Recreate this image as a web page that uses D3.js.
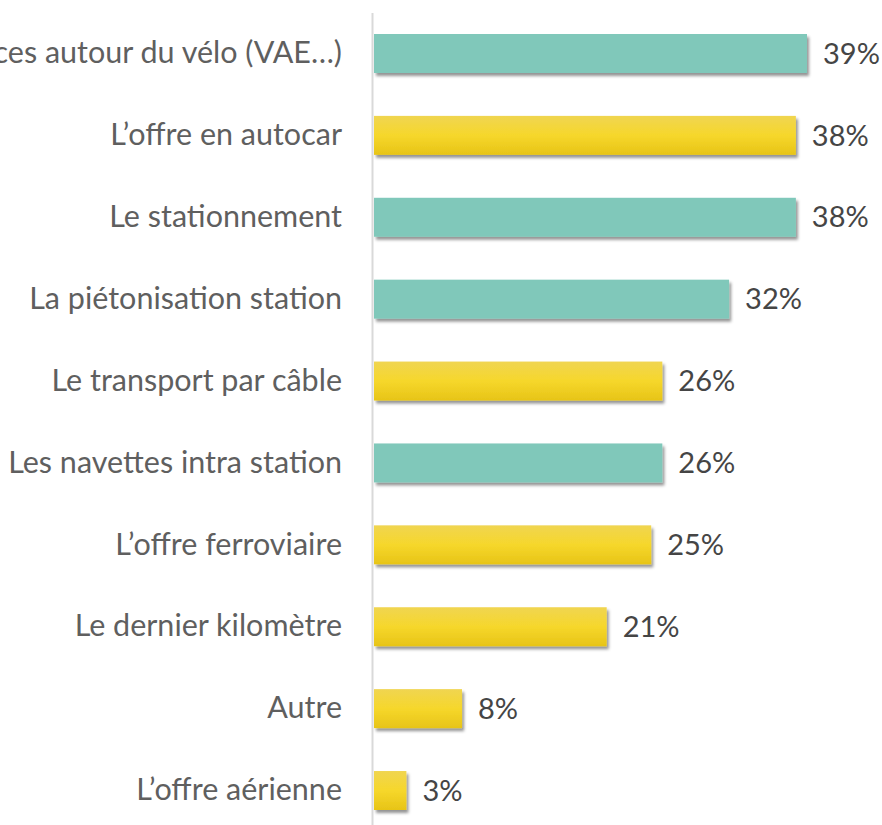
<!DOCTYPE html>
<html>
<head>
<meta charset="utf-8">
<script src="https://cdn.jsdelivr.net/npm/d3@7"></script>
<style>
  body { margin: 0; background: #fff; }
  svg { display: block; }
  .lbl text { font-family: Lato, "Open Sans", sans-serif; font-size: 30.5px; fill: #5f5f5f; }
  .val { font-family: Lato, "Open Sans", sans-serif; font-size: 29px; fill: #454545; }
</style>
</head>
<body>
<div id="chart"></div>
<script>
// categories, top to bottom
var labels = ["Les services autour du vélo (VAE…)", "L’offre en autocar", "Le stationnement",
  "La piétonisation station", "Le transport par câble", "Les navettes intra station",
  "L’offre ferroviaire", "Le dernier kilomètre", "Autre", "L’offre aérienne"];
// share of answers, %
var values = [39, 38, 38, 32, 26, 26, 25, 21, 8, 3];
// bar colour group (t = teal, y = yellow)
var groups = ["t", "y", "t", "t", "y", "t", "y", "y", "y", "y"];

var width = 882, height = 825;

var data = labels.map(function(d, i) { return {label: d, value: values[i], group: groups[i]}; });

var svg = d3.select("#chart")
  .append("svg")
  .attr("width", width)
  .attr("height", height);

var defs = svg.append("defs");

var grad = defs.append("linearGradient")
  .attr("id", "yellowGrad")
  .attr("x1", 0).attr("y1", 0).attr("x2", 0).attr("y2", 1);
grad.append("stop").attr("offset", "0%").attr("stop-color", "#f0d551");
grad.append("stop").attr("offset", "50%").attr("stop-color", "#f6d72b");
grad.append("stop").attr("offset", "100%").attr("stop-color", "#e7c417");

var shadow = defs.append("filter")
  .attr("id", "shadow")
  .attr("x", "-10%").attr("y", "-30%")
  .attr("width", "130%").attr("height", "180%");
shadow.append("feDropShadow")
  .attr("dx", 2).attr("dy", 3)
  .attr("stdDeviation", 1.6)
  .attr("flood-color", "#000")
  .attr("flood-opacity", 0.42);

var x = d3.scaleLinear()
  .domain([0, 39])
  .range([373, 807]);

var y = d3.scaleBand()
  .domain(labels)
  .range([34, 810])
  .paddingInner(0.524)
  .paddingOuter(0);

var color = function(g) { return g === "t" ? "#80c8ba" : "url(#yellowGrad)"; };

// category labels
var yAxis = svg.append("g")
  .attr("class", "lbl")
  .attr("transform", "translate(" + x(0) + ",0)")
  .call(d3.axisLeft(y).tickSize(0).tickPadding(31));
yAxis.select(".domain").remove();

// bars
svg.append("g")
  .selectAll("rect")
  .data(data)
  .join("rect")
  .attr("x", x(0) + 1)
  .attr("y", d => y(d.label))
  .attr("width", d => x(d.value) - x(0) - 1)
  .attr("height", y.bandwidth())
  .attr("fill", d => color(d.group))
  .attr("filter", "url(#shadow)");

// vertical axis line
svg.append("line")
  .attr("x1", x(0) - 0.5).attr("x2", x(0) - 0.5)
  .attr("y1", 13).attr("y2", 831)
  .attr("stroke", "#d9d9d9")
  .attr("stroke-width", 2);

// value labels
svg.append("g")
  .selectAll("text")
  .data(data)
  .join("text")
  .attr("class", "val")
  .attr("x", d => x(d.value) + 16)
  .attr("y", d => y(d.label) + y.bandwidth() / 2)
  .attr("dy", "0.35em")
  .text(d => d.value + "%");
</script>
</body>
</html>
